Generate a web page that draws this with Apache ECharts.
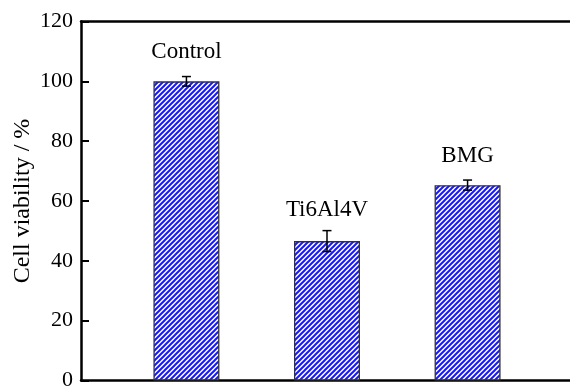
<!DOCTYPE html>
<html>
<head>
<meta charset="utf-8">
<title>Cell viability</title>
<script src="https://cdn.jsdelivr.net/npm/echarts@6/dist/echarts.min.js"></script>
<style>
  html, body { margin: 0; padding: 0; background: #fff; }
  #chart { width: 570px; height: 387px; }
</style>
</head>
<body>
<div id="chart"></div>
<script>
// Samples and measured viability (mean and standard deviation, %)
const categories = ['Control', 'Ti6Al4V', 'BMG'];
const positions = [1, 2, 3];
const viability = [100, 46.6, 65.3];
const viabilityError = [1.6, 3.5, 1.7];
const yTicks = [0, 20, 40, 60, 80, 100, 120];

const FONT = "'Liberation Serif', 'Times New Roman', serif";

// Diagonal blue/white hatch used as bar fill
function hatchPattern() {
  const s = 5;
  const c = document.createElement('canvas');
  c.width = s; c.height = s;
  const g = c.getContext('2d');
  g.fillStyle = '#ffffff';
  g.fillRect(0, 0, s, s);
  g.strokeStyle = '#1616ff';
  g.lineWidth = 2;
  g.beginPath();
  g.moveTo(-1, s + 1); g.lineTo(s + 1, -1);
  g.moveTo(-1, 1); g.lineTo(1, -1);
  g.moveTo(s - 1, s + 1); g.lineTo(s + 1, s - 1);
  g.stroke();
  return c;
}

const labelGaps = [18, 20, 18];

const barData = categories.map((name, i) => ({
  name: name,
  value: [positions[i], viability[i]],
  label: { distance: labelGaps[i] }
}));

const errData = categories.map((name, i) => [
  positions[i], viability[i] - viabilityError[i], viability[i] + viabilityError[i]
]);

const chart = echarts.init(document.getElementById('chart'), null, { renderer: 'canvas' });

chart.setOption({
  animation: false,
  backgroundColor: '#ffffff',
  grid: { left: 81, top: 21.5, width: 492, height: 359, containLabel: false, outerBoundsMode: 'none' },
  xAxis: [
    {
      type: 'value', min: 0.25, max: 3.75, position: 'bottom',
      axisLine: { show: true, lineStyle: { color: '#000', width: 2.5 } },
      axisTick: { show: false }, axisLabel: { show: false }, splitLine: { show: false }
    },
    {
      type: 'value', min: 0.25, max: 3.75, position: 'top',
      axisLine: { show: true, lineStyle: { color: '#000', width: 2.5 } },
      axisTick: { show: false }, axisLabel: { show: false }, splitLine: { show: false }
    }
  ],
  yAxis: {
    type: 'value', min: 0, max: 120, interval: 20,
    name: 'Cell viability / %',
    nameLocation: 'middle', nameGap: 46, nameRotate: 90, nameMoveOverlap: false,
    nameTextStyle: { fontFamily: FONT, fontSize: 24, color: '#000' },
    axisLine: { show: true, lineStyle: { color: '#000', width: 2.5 } },
    axisTick: { show: true, inside: true, length: 8, lineStyle: { color: '#000', width: 2 } },
    axisLabel: {
      margin: 8, fontFamily: FONT, fontSize: 22, color: '#000',
      formatter: v => (yTicks.includes(v) ? String(v) : '')
    },
    splitLine: { show: false }
  },
  series: [
    {
      type: 'bar',
      data: barData,
      barWidth: 66,
      itemStyle: {
        color: { image: hatchPattern(), repeat: 'repeat' },
        borderColor: '#333333',
        borderWidth: 1.3
      },
      label: {
        show: true, position: 'top',
        formatter: p => p.name,
        fontFamily: FONT, fontSize: 23, color: '#000'
      },
      z: 2
    },
    {
      type: 'custom',
      data: errData,
      z: 3,
      renderItem: function (params, api) {
        const x = api.value(0);
        const lo = api.coord([x, api.value(1)]);
        const hi = api.coord([x, api.value(2)]);
        const half = 4.5;
        const style = { stroke: '#000', lineWidth: 1.5 };
        return {
          type: 'group',
          children: [
            { type: 'line', shape: { x1: lo[0], y1: lo[1], x2: hi[0], y2: hi[1] }, style: style },
            { type: 'line', shape: { x1: hi[0] - half, y1: hi[1], x2: hi[0] + half, y2: hi[1] }, style: style },
            { type: 'line', shape: { x1: lo[0] - half, y1: lo[1], x2: lo[0] + half, y2: lo[1] }, style: style }
          ]
        };
      }
    }
  ]
});
</script>
</body>
</html>
